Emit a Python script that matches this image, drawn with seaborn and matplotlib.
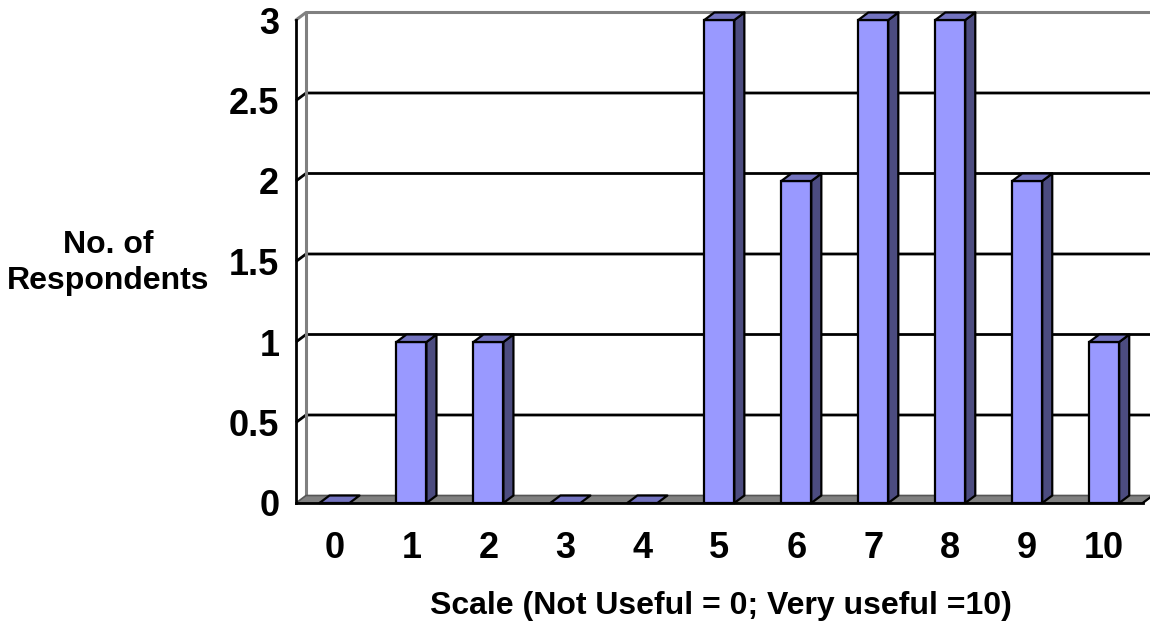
import matplotlib
matplotlib.use("Agg")
import matplotlib.pyplot as plt
from matplotlib.patches import Polygon
import seaborn as sns
import pandas as pd

# Survey results: usefulness rating (0-10) and how many respondents chose it
scale_labels = ["0", "1", "2", "3", "4", "5", "6", "7", "8", "9", "10"]
respondents = [0, 1, 1, 0, 0, 3, 2, 3, 3, 2, 1]
y_ticks = [0, 0.5, 1, 1.5, 2, 2.5, 3]
y_tick_labels = ["0", "0.5", "1", "1.5", "2", "2.5", "3"]

FRONT = "#9999FF"
SIDE = "#4C4C80"
TOP = "#7373BF"
WALL = "#808080"

sns.set_style("white")
plt.rcParams["font.family"] = ["Liberation Sans", "DejaVu Sans"]
plt.rcParams["font.weight"] = "bold"
plt.rcParams["text.color"] = "black"

W, H, DPI = 1150, 623, 100
fig = plt.figure(figsize=(W / DPI, H / DPI), dpi=DPI)
ax = fig.add_axes([296 / W, (H - 503) / H, (1142.7 - 296) / W, (503 - 20) / H])

df = pd.DataFrame({"scale": scale_labels, "count": respondents})
sns.barplot(data=df, x="scale", y="count", order=scale_labels, color=FRONT,
            saturation=1, width=0.39, edgecolor="black", linewidth=1.6, ax=ax)

ax.set_xlim(-0.5, len(scale_labels) - 0.5)
ax.set_ylim(0, 3)
ax.set_xlabel("")
ax.set_ylabel("")

# depth of the pseudo-3D box, converted from pixels to data units
ppx = ax.bbox.width / len(scale_labels)
ppy = ax.bbox.height / 3.0
ddx = 10 / ppx
ddy = 7.5 / ppy
x_left, x_right = -0.5, len(scale_labels) - 0.5

# back wall gridlines with their short diagonal on the side wall
for yv in y_ticks[1:-1]:
    ax.plot([x_left, x_left + ddx, x_right + ddx], [yv, yv + ddy, yv + ddy],
            color="black", lw=2, clip_on=False, zorder=0.5, solid_capstyle="butt")
# back wall border
top = y_ticks[-1]
ax.plot([x_left, x_left + ddx, x_right + ddx], [top, top + ddy, top + ddy],
        color=WALL, lw=2.2, clip_on=False, zorder=0.5)
ax.plot([x_left + ddx, x_left + ddx], [ddy, top + ddy],
        color=WALL, lw=2.2, clip_on=False, zorder=0.5)

# floor
floor = Polygon([(x_left, 0), (x_right, 0), (x_right + ddx, ddy), (x_left + ddx, ddy)],
                closed=True, facecolor=WALL, edgecolor="#555555", lw=1.2,
                clip_on=False, zorder=0.8)
ax.add_patch(floor)
ax.plot([x_right, x_right + ddx], [0, ddy], color="black", lw=1.6, clip_on=False, zorder=0.9)

# give every bar its side and top faces
for p in list(ax.patches):
    if p is floor:
        continue
    x0 = p.get_x()
    x1 = x0 + p.get_width()
    h = p.get_height()
    p.set_zorder(3)
    p.set_clip_on(False)
    if h > 0:
        ax.add_patch(Polygon([(x1, 0), (x1, h), (x1 + ddx, h + ddy), (x1 + ddx, ddy)],
                             closed=True, facecolor=SIDE, edgecolor="black", lw=1.6,
                             joinstyle="round", clip_on=False, zorder=3))
    ax.add_patch(Polygon([(x0, h), (x1, h), (x1 + ddx, h + ddy), (x0 + ddx, h + ddy)],
                         closed=True, facecolor=TOP, edgecolor="black", lw=1.6,
                         joinstyle="round", clip_on=False, zorder=3))

# axes lines and ticks
for side in ("top", "right"):
    ax.spines[side].set_visible(False)
for side in ("left", "bottom"):
    ax.spines[side].set_color("black")
    ax.spines[side].set_linewidth(2)
    ax.spines[side].set_zorder(4)

ax.set_yticks(y_ticks)
ax.set_yticklabels(y_tick_labels)
ax.tick_params(axis="y", direction="out", length=6.5, width=1.5, color="black",
               pad=5.5, labelsize=26, labelcolor="black")

ax.set_xticks(range(len(scale_labels)))
ax.set_xticklabels(scale_labels)
ax.set_xticks([i - 0.5 for i in range(len(scale_labels) + 1)], minor=True)
ax.tick_params(axis="x", which="major", length=0, pad=20, labelsize=26, labelcolor="black")
ax.tick_params(axis="x", which="minor", direction="out", length=6, width=1.5, color="black")
for lbl in ax.get_xticklabels() + ax.get_yticklabels():
    lbl.set_fontweight("bold")

fig.text(108 / W, 1 - 263 / H, "No. of\nRespondents", ha="center", va="center",
         multialignment="center", fontsize=23, fontweight="bold", linespacing=1.25,
         color="black")
fig.text(721 / W, 1 - 606 / H, "Scale (Not Useful = 0; Very useful =10)", ha="center",
         va="center", fontsize=23, fontweight="bold", color="black")

fig.savefig("out.png", dpi=DPI, facecolor="white")
